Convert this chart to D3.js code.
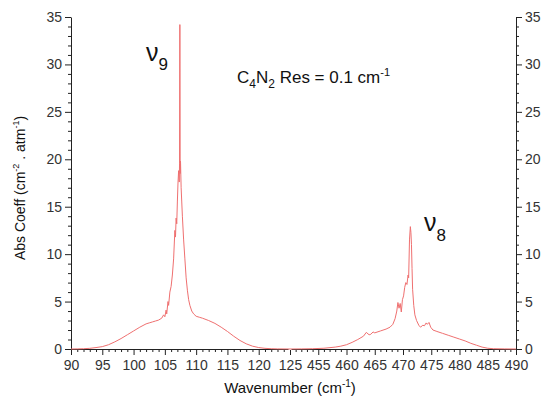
<!DOCTYPE html>
<html>
<head>
<meta charset="utf-8">
<script src="https://cdn.jsdelivr.net/npm/d3@7"></script>
<style>
body { margin:0; background:#fff; }
text { font-family: "Liberation Sans", Arial, sans-serif; }
</style>
</head>
<body>
<svg id="chart"></svg>
<script>
var screen = {width:542, height:396};
var margins = {top:17, right:26, bottom:47, left:71};

// nu9 band (left segment)
var wn9  = [90,91,92,93,94,95,96,97,98,99,100,101,102,102.5,103,103.5,104,104.5,104.8,105,105.2,105.3,105.5,105.6,105.8,106,106.2,106.4,106.6,106.7,106.8,106.9,107.0,107.1,107.2,107.3,107.35,107.4,107.45,107.5,107.6,107.7,107.8,108.0,108.2,108.4,108.6,108.8,109,109.3,109.6,110,110.5,111,112,113,114,115,116,117,118,119,120,121,122,123,125];
var abs9 = [0,0.01,0.03,0.07,0.15,0.25,0.45,0.75,1.1,1.5,1.9,2.3,2.65,2.75,2.85,2.95,3.05,3.25,3.6,3.4,4.1,3.7,5.0,4.6,6.0,6.6,7.8,9.5,12.5,11.8,13.8,13.2,15.5,17.5,18.8,17.6,19.6,34.2,18.5,19.8,17,15.5,14,11.5,9.5,7.5,6.2,5.2,4.6,4.0,3.7,3.45,3.35,3.25,3.0,2.7,2.3,1.85,1.35,0.9,0.55,0.3,0.15,0.07,0.03,0.01,0];

// nu8 band (right segment)
var wn8  = [450,452,454,456,458,459,460,461,462,463,463.5,464,464.3,464.7,465,466,467,467.7,468.2,468.6,468.9,469.1,469.3,469.5,469.7,469.9,470.1,470.3,470.5,470.7,470.9,471.0,471.15,471.3,471.4,471.5,471.6,471.7,471.9,472.1,472.4,472.8,473.1,473.5,473.8,474.1,474.3,474.6,474.9,475.3,476,477,478,479,480,481,482,483,484,485,486,488,490];
var abs8 = [0,0.01,0.03,0.08,0.2,0.3,0.45,0.7,1.0,1.35,1.75,1.5,1.55,1.8,1.7,1.9,2.1,2.3,2.6,3.2,4.0,4.9,4.3,4.8,3.9,5.2,5.6,6.5,7.0,6.8,7.8,7.5,11.5,12.9,12.3,11.0,8.5,6.3,4.6,3.6,3.0,2.5,2.3,2.5,2.45,2.75,2.6,2.8,2.3,2.0,1.85,1.65,1.45,1.25,1.05,0.85,0.6,0.4,0.2,0.08,0.03,0.01,0];

var xTicks = [90,95,100,105,110,115,120,125,455,460,465,470,475,480,485,490];
var yTicks = [0,5,10,15,20,25,30,35];

var setup = function()
    {
        var svg = d3.select("#chart")
            .attr("width", screen.width)
            .attr("height", screen.height);

        var width = screen.width - margins.left - margins.right;
        var height = screen.height - margins.top - margins.bottom;
        var brk = 219;  // pixel position of the axis break

        // broken axis: 90-125 then 450-490
        var xscale = d3.scaleLinear()
                        .domain([90,125,450,490])
                        .range([0,brk,brk,width]);
        var yscale = d3.scaleLinear()
                        .domain([0,35])
                        .range([height,0]);

        var g = svg.append("g")
            .attr("transform", "translate("+margins.left+","+margins.top+")");

        var minorX = d3.range(90,125,1).concat(d3.range(451,491,1))
                        .filter(function(d){ return xTicks.indexOf(d) < 0; });
        var minorY = d3.range(0,36,1).filter(function(d){ return d % 5 != 0; });

        // minor ticks
        g.append("g")
            .attr("transform", "translate(0,"+height+")")
            .call(d3.axisBottom(xscale).tickValues(minorX).tickSize(3).tickFormat(""))
            .call(function(a){ a.select(".domain").remove(); });
        g.append("g")
            .call(d3.axisLeft(yscale).tickValues(minorY).tickSize(3).tickFormat(""))
            .call(function(a){ a.select(".domain").remove(); });
        g.append("g")
            .attr("transform", "translate("+width+",0)")
            .call(d3.axisRight(yscale).tickValues(minorY).tickSize(3).tickFormat(""))
            .call(function(a){ a.select(".domain").remove(); });

        // major axes
        var xAxis = g.append("g")
            .attr("transform", "translate(0,"+height+")")
            .call(d3.axisBottom(xscale).tickValues(xTicks).tickSize(6).tickSizeOuter(0).tickPadding(5));
        g.append("g")
            .call(d3.axisLeft(yscale).tickValues(yTicks).tickSize(6).tickSizeOuter(0).tickPadding(3));
        g.append("g")
            .attr("transform", "translate("+width+",0)")
            .call(d3.axisRight(yscale).tickValues(yTicks).tickSize(6).tickSizeOuter(0).tickPadding(3));

        g.selectAll(".tick text")
            .attr("font-size", 14)
            .attr("fill", "#333")
            .attr("font-family", "Liberation Sans, Arial, sans-serif");
        g.selectAll(".domain, .tick line").attr("stroke", "#222");

        // small gap to mark the break
        xAxis.append("rect")
            .attr("x", brk-1.5).attr("y", -1)
            .attr("width", 3).attr("height", 2)
            .attr("fill", "#fff");

        var line = d3.line()
            .x(function(d){ return xscale(d[0]); })
            .y(function(d){ return yscale(d[1]); });

        var band9 = wn9.map(function(w,i){ return [w, abs9[i]]; });
        var band8 = wn8.map(function(w,i){ return [w, abs8[i]]; });

        [band9, band8].forEach(function(b)
            {
                g.append("path")
                    .datum(b)
                    .attr("d", line)
                    .attr("fill", "none")
                    .attr("stroke", "#ef7070")
                    .attr("stroke-width", 1);
            });

        // labels
        var t = svg.append("text")
            .attr("x", 237).attr("y", 83)
            .attr("font-size", 17).attr("fill", "#111");
        t.append("tspan").text("C");
        t.append("tspan").attr("font-size", 12).attr("dy", 5).text("4");
        t.append("tspan").attr("dy", -5).text("N");
        t.append("tspan").attr("font-size", 12).attr("dy", 5).text("2");
        t.append("tspan").attr("dy", -5).text(" Res = 0.1 cm");
        t.append("tspan").attr("font-size", 11).attr("dy", -7).text("-1");

        var n9 = svg.append("text")
            .attr("x", 146).attr("y", 61)
            .attr("font-size", 25).attr("fill", "#111");
        n9.append("tspan").text("\u03bd");
        n9.append("tspan").attr("font-size", 17).attr("dy", 9).text("9");

        var n8 = svg.append("text")
            .attr("x", 424).attr("y", 231)
            .attr("font-size", 25).attr("fill", "#111");
        n8.append("tspan").text("\u03bd");
        n8.append("tspan").attr("font-size", 17).attr("dy", 10).text("8");

        var xl = svg.append("text")
            .attr("x", 290).attr("y", 393)
            .attr("text-anchor", "middle")
            .attr("font-size", 15).attr("fill", "#111");
        xl.append("tspan").text("Wavenumber (cm");
        xl.append("tspan").attr("font-size", 10).attr("dy", -6).text("-1");
        xl.append("tspan").attr("dy", 6).text(")");

        var yl = svg.append("text")
            .attr("transform", "translate(25,188) rotate(-90)")
            .attr("text-anchor", "middle")
            .attr("font-size", 14).attr("fill", "#111");
        yl.append("tspan").text("Abs Coeff (cm");
        yl.append("tspan").attr("font-size", 9).attr("dy", -6).text("-2");
        yl.append("tspan").attr("dy", 6).text(" . atm");
        yl.append("tspan").attr("font-size", 9).attr("dy", -6).text("-1");
        yl.append("tspan").attr("dy", 6).text(")");
    };

setup();
</script>
</body>
</html>
